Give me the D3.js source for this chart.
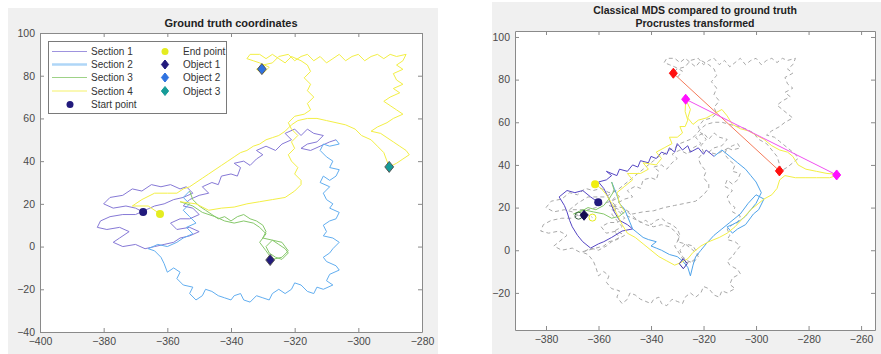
<!DOCTYPE html>
<html>
<head>
<meta charset="utf-8">
<script src="https://cdn.jsdelivr.net/npm/d3@7"></script>
<style>
  body { margin: 0; background: #fff; }
  svg { display: block; font-family: Arial, "Liberation Sans", Helvetica, sans-serif; }
</style>
</head>
<body>
<svg id="chart" width="881" height="354"></svg>
<script>
// ground truth path, split in 4 sections
const section1 = [[-367.6,16.2],[-370,18],[-373,19],[-377,18],[-380,20],[-378,23],[-374,24],[-371,27],[-368,26],[-365,29],[-362,28],[-359,29],[-356,27],[-354,28],[-352,25],[-355,23],[-358,22],[-361,20],[-364,19],[-367,17],[-370,15],[-374,15],[-378,14],[-381,12],[-382,9],[-379,8],[-375,9],[-372,7],[-375,4],[-377,2],[-374,0],[-370,1],[-367,-1],[-364,0],[-361,1],[-358,2],[-356,4],[-353,5],[-350,7],[-353,9],[-357,8],[-359,11],[-356,13],[-353,13],[-350,15],[-352,18],[-355,19],[-353,22],[-350,24],[-347,25],[-349,28],[-346,30],[-344,29],[-343,33],[-340,34],[-338,33],[-337,37],[-339,39],[-336,40],[-334,38],[-332,41],[-330,43],[-332,45],[-329,47],[-326,45],[-324,48],[-321,50],[-323,53],[-320,55],[-318,52],[-316,55],[-314,53],[-311,52],[-313,49],[-316,48],[-318,46],[-315,45],[-312,47],[-309,49],[-307,50]];
const section2 = [[-307,50],[-306,48],[-309,47],[-311,48],[-312,45],[-310,42],[-308,40],[-309,37],[-306,36],[-307,33],[-309,31],[-311,33],[-312,30],[-309,28],[-311,25],[-310,22],[-308,20],[-309,18],[-306,16],[-307,13],[-309,12],[-311,10],[-310,7],[-311,5],[-308,4],[-306,2],[-308,-1],[-309,-3],[-311,-5],[-310,-7],[-307,-9],[-306,-11],[-309,-13],[-310,-16],[-308,-18],[-311,-20],[-313,-19],[-314,-22],[-316,-21],[-318,-18],[-320,-17],[-321,-20],[-323,-22],[-325,-20],[-327,-22],[-328,-25],[-330,-24],[-332,-23],[-334,-26],[-336,-25],[-337,-22],[-339,-23],[-340,-25],[-342,-24],[-344,-23],[-346,-21],[-348,-20],[-349,-23],[-351,-25],[-353,-22],[-352,-19],[-355,-18],[-357,-15],[-356,-12],[-358,-10],[-360,-12],[-361,-8],[-362,-5],[-364,-2],[-366,-1],[-363,1],[-360,0],[-357,2],[-355,4],[-352,6],[-354,9],[-351,11],[-353,14],[-355,17],[-353,20],[-355,23],[-353,26]];
const section3 = [[-353,26],[-352,22],[-350,19],[-348,17],[-346,15],[-344,13],[-342,14],[-340,12],[-338,14],[-336,15],[-334,13],[-332,12],[-330,10],[-329,7],[-330,4],[-327,3],[-325,1],[-323,-1],[-322,-3],[-324,-6],[-326,-5],[-328,-3],[-329,0],[-327,3],[-324,2],[-322,-2],[-324,-5],[-327,-6],[-329,-2],[-331,2],[-329,6],[-331,9],[-333,11],[-336,12],[-339,11],[-342,12],[-345,14],[-349,16],[-352,19],[-356,21]];
const section4 = [[-356,21],[-351,20],[-347,17],[-343,18],[-339,18.5],[-335,20],[-331,21],[-327,22],[-323,23],[-320,26],[-318,29],[-318,31],[-320,34],[-319,37],[-321,40],[-322,43],[-320,46],[-321,49],[-319,52],[-321,55],[-322,58],[-320,61],[-317,62],[-315,64],[-316,67],[-314,70],[-316,73],[-315,76],[-317,79],[-315,82],[-316,85],[-318,87],[-321,89],[-323,86],[-325,88],[-327,90],[-329,88],[-331,90],[-334,90],[-335,88],[-333,87],[-331,86],[-328,84],[-330,81],[-332,83],[-330,85],[-327,86],[-325,89],[-322,90],[-320,87],[-318,89],[-316,90],[-314,87],[-312,89],[-310,86],[-308,88],[-306,90],[-304,87],[-302,89],[-300,90],[-298,87],[-296,89],[-294,90],[-292,88],[-290,90],[-288,89],[-285,90],[-286,87],[-288,85],[-286,83],[-289,81],[-288,78],[-286,76],[-289,74],[-287,72],[-290,70],[-292,68],[-290,66],[-288,64],[-286,62],[-289,60],[-291,58],[-294,56],[-296,54],[-293,53],[-291,51],[-289,49],[-287,47],[-285,45],[-284,43],[-286,41],[-288,39],[-290.3,37.3],[-291,40],[-292,44],[-294,47],[-296,50],[-299,52],[-301,55],[-304,57],[-307,58],[-310,59],[-313,60],[-316,60],[-319,59],[-321,57],[-323,54],[-325,52],[-327,51],[-329,50],[-331,48],[-333,47],[-335,45],[-337,44],[-339,42],[-341,40],[-343,38],[-345,36],[-347,34],[-349,32],[-351,30],[-353,28],[-355,27],[-357,25],[-360,25],[-364,25],[-368,22],[-371,19],[-366,19],[-362.3,15.3]];

// classical MDS path (procrustes transformed)
const mds1 = [[-360.1,22.5],[-363,25],[-366,28],[-369,27],[-372,28],[-375,25],[-373,21],[-372,18],[-371,14],[-370,11],[-368,7],[-366,4],[-363,1],[-360,3],[-358,4],[-355,6],[-351,9],[-347,10],[-349,12],[-352,14],[-354,18],[-356,24],[-358,29],[-360,32],[-357,33],[-355,35],[-357,37],[-353,35],[-352,38],[-349,37],[-347,40],[-345,39],[-344,42],[-341,41],[-340,44],[-338,43],[-336,46],[-334,45],[-333,48],[-331,46],[-330,50],[-328,47],[-326,49],[-325,46],[-322,48],[-320,45],[-319,47],[-316,44]];
const mds2 = [[-316,44],[-313,47],[-310,44],[-307,41],[-304,38],[-302,35],[-300,32],[-298,27],[-300,22],[-302,19],[-304,16],[-306,14],[-309,12],[-311,11],[-309,8],[-307,10],[-304,12],[-301,17],[-299,19],[-297,24],[-300,26],[-303,22],[-306,17],[-310,13],[-313,10],[-316,7],[-319,3],[-321,0],[-323,-3],[-324,-7],[-325,-12],[-326,-8],[-328,-5],[-330,-3],[-333,-2],[-336,0],[-338,1],[-340,2],[-338,4],[-341,5],[-343,6],[-345,8],[-347,10],[-348,13],[-349,16],[-350,19],[-352,22],[-353,26],[-354,29],[-355,32]];
const mds3 = [[-355,32],[-354,28],[-356,24],[-358,21],[-361,19],[-364,20],[-367,18],[-369.5,17],[-366,19],[-362,18],[-358,17],[-355,15],[-352,16],[-350,18]];
const mds4 = [[-350,18],[-352,22],[-353,27],[-350,30],[-347,33],[-349,36],[-344,36],[-341,38],[-343,41],[-338,40],[-336,43],[-338,46],[-335,48],[-332,50],[-333,53],[-330,53],[-328,55],[-329,58],[-327,58],[-326,61],[-327,65],[-326.8,70.8],[-325,66],[-326,62],[-324,59],[-322,61],[-319,62],[-316,64],[-313,66],[-311,63],[-309,59],[-306,57],[-303,56],[-300,54],[-297,52],[-294,49],[-291,47],[-288,46],[-286,44],[-284,40],[-281,38],[-277,37],[-273,36],[-268,35.5],[-272,34],[-277,34],[-281,34],[-285,34],[-289,35],[-291,33],[-292,29],[-294,26],[-297,24],[-299,22],[-302,19],[-305,15],[-308,11],[-311,8],[-314,6],[-318,4],[-321,2],[-324,-1],[-326,-4],[-329,-6],[-331,-7],[-334,-5],[-337,-3],[-340,0],[-343,3],[-346,6],[-349,8],[-351,12],[-353,17],[-355,22],[-357,26],[-359,29],[-361.3,30.9]];

const startPoint = [-367.6, 16.2];
const endPoint = [-362.3, 15.3];
const objects = [[-327.7, -6.3], [-330.3, 83.1], [-290.3, 37.3]];
const mdsStart = [-360.1, 22.5];
const mdsEnd = [-361.3, 30.9];
const mdsObject1 = [-365.5, 16.4];
const redPair = [[-331.5, 83.0], [-291.1, 37.2]];
const magentaPair = [[-326.8, 70.8], [-269.3, 35.3]];

const sectionNames = ["Section 1", "Section 2", "Section 3", "Section 4"];
const pointNames = ["End point", "Object 1", "Object 2", "Object 3"];
const xTicksL = [-400, -380, -360, -340, -320, -300, -280];
const yTicksL = [-40, -20, 0, 20, 40, 60, 80, 100];
const xTicksR = [-380, -360, -340, -320, -300, -280, -260];
const yTicksR = [-20, 0, 20, 40, 60, 80, 100];

const secColors = ["#8679d6", "#62aef0", "#86c86a", "#f3ef45"];
const mdsColors = ["#5546c4", "#4ea3ea", "#86c86a", "#f3ef45"];
const objColors = ["#221a7c", "#2f72e0", "#169c98"];

const svg = d3.select("#chart");

// figure backgrounds
svg.append("rect").attr("x", 8).attr("y", 8).attr("width", 430).attr("height", 346).attr("fill", "#f0f0f0");
svg.append("rect").attr("x", 492).attr("y", 2).attr("width", 389).attr("height", 352).attr("fill", "#f0f0f0");

function panel(box, xd, yd, xt, yt) {
  const x = d3.scaleLinear().domain(xd).range([box.l, box.r]);
  const y = d3.scaleLinear().domain(yd).range([box.b, box.t]);
  const g = svg.append("g");
  g.append("rect").attr("x", box.l).attr("y", box.t)
    .attr("width", box.r - box.l).attr("height", box.b - box.t).attr("fill", "#fff");
  return { x, y, g, box, xt, yt };
}

function frame(p) {
  const { x, y, box, xt, yt } = p;
  const style = a => a.call(s => s.select(".domain").attr("stroke", "#8a8a8a"))
    .call(s => s.selectAll(".tick line").attr("stroke", "#8a8a8a"))
    .call(s => s.selectAll("text").attr("fill", "#4a4a4a").attr("font-size", 10.5));
  svg.append("g").attr("transform", `translate(0,${box.b})`)
    .call(d3.axisBottom(x).tickValues(xt).tickSizeInner(-4).tickSizeOuter(0).tickPadding(6))
    .call(style);
  svg.append("g").attr("transform", `translate(0,${box.t})`)
    .call(d3.axisTop(x).tickValues(xt).tickSizeInner(-4).tickSizeOuter(0).tickFormat(""))
    .call(style);
  svg.append("g").attr("transform", `translate(${box.l},0)`)
    .call(d3.axisLeft(y).tickValues(yt).tickSizeInner(-4).tickSizeOuter(0).tickPadding(5))
    .call(style);
  svg.append("g").attr("transform", `translate(${box.r},0)`)
    .call(d3.axisRight(y).tickValues(yt).tickSizeInner(-4).tickSizeOuter(0).tickFormat(""))
    .call(style);
  svg.selectAll(".tick text").attr("font-family", "Arial, 'Liberation Sans', sans-serif");
}

function path(p, data, color, w, dash) {
  const line = d3.line().x(d => p.x(d[0])).y(d => p.y(d[1]));
  p.g.append("path").datum(data).attr("fill", "none").attr("stroke", color)
    .attr("stroke-width", w).attr("stroke-linejoin", "round")
    .attr("stroke-dasharray", dash || null).attr("d", line);
}

function diamond(sel, cx, cy, r, fill, stroke) {
  sel.append("path").attr("d", `M${cx},${cy - r}L${cx + r * 0.8},${cy}L${cx},${cy + r}L${cx - r * 0.8},${cy}Z`)
    .attr("fill", fill).attr("stroke", stroke || fill).attr("stroke-width", 1);
}

// ---------- left: ground truth ----------
const L = panel({ l: 40, r: 422, t: 33, b: 332 }, [-400, -280], [-40, 100], xTicksL, yTicksL);
[section1, section2, section3, section4].forEach((s, i) => path(L, s, secColors[i], 1));
L.g.append("circle").attr("cx", L.x(startPoint[0])).attr("cy", L.y(startPoint[1])).attr("r", 4).attr("fill", objColors[0]);
L.g.append("circle").attr("cx", L.x(endPoint[0])).attr("cy", L.y(endPoint[1])).attr("r", 4).attr("fill", "#e4ec20");
objects.forEach((o, i) => diamond(L.g, L.x(o[0]), L.y(o[1]), 5.5, objColors[i], "#555"));
frame(L);

svg.append("text").attr("x", 231).attr("y", 27).attr("text-anchor", "middle")
  .attr("font-size", 11).attr("font-weight", "bold").attr("fill", "#222").text("Ground truth coordinates");

// legend
const lg = svg.append("g");
lg.append("rect").attr("x", 48.5).attr("y", 41.5).attr("width", 178).attr("height", 72)
  .attr("fill", "#fff").attr("stroke", "#7a7a7a");
const rowY = [51.5, 64.5, 77.5, 91, 104.5];
sectionNames.forEach((n, i) => {
  lg.append("line").attr("x1", 52).attr("x2", 87).attr("y1", rowY[i]).attr("y2", rowY[i])
    .attr("stroke", secColors[i]).attr("stroke-width", i === 1 ? 2.5 : 1).attr("opacity", i === 1 ? 0.5 : 0.8);
  lg.append("text").attr("x", 91).attr("y", rowY[i] + 3.5).attr("font-size", 10).attr("fill", "#333").text(n);
});
lg.append("circle").attr("cx", 70).attr("cy", rowY[4]).attr("r", 3.5).attr("fill", objColors[0]);
lg.append("text").attr("x", 91).attr("y", rowY[4] + 3.5).attr("font-size", 10).attr("fill", "#333").text("Start point");
lg.append("circle").attr("cx", 165).attr("cy", rowY[0]).attr("r", 3.5).attr("fill", "#e4ec20");
objColors.forEach((c, i) => diamond(lg, 165, rowY[i + 1], 4.5, c));
pointNames.forEach((n, i) => {
  lg.append("text").attr("x", 183).attr("y", rowY[i] + 3.5).attr("font-size", 10).attr("fill", "#333").text(n);
});

// ---------- right: MDS ----------
const R = panel({ l: 515, r: 875, t: 31, b: 330 }, [-391.8, -254.7], [-37.4, 102.8], xTicksR, yTicksR);
path(R, [].concat(section1, section2, section3, section4), "#a8a8a8", 1, "4,3");
[mds1, mds2, mds3, mds4].forEach((s, i) => path(R, s, mdsColors[i], 1));
path(R, redPair, "#f47a5a", 1);
path(R, magentaPair, "#f050f0", 1);
redPair.forEach(d => diamond(R.g, R.x(d[0]), R.y(d[1]), 5, "#ff1010"));
magentaPair.forEach(d => diamond(R.g, R.x(d[0]), R.y(d[1]), 5, "#ff10ff"));
R.g.append("circle").attr("cx", R.x(startPoint[0])).attr("cy", R.y(startPoint[1])).attr("r", 3.5)
  .attr("fill", "none").attr("stroke", "#3f6a4a").attr("stroke-width", 1);
R.g.append("circle").attr("cx", R.x(endPoint[0])).attr("cy", R.y(endPoint[1])).attr("r", 3.5)
  .attr("fill", "none").attr("stroke", "#e4ec20").attr("stroke-width", 1);
diamond(R.g, R.x(objects[0][0]), R.y(objects[0][1]), 5, "none", "#3d2ca8");
diamond(R.g, R.x(mdsObject1[0]), R.y(mdsObject1[1]), 5, "#140c50");
R.g.append("circle").attr("cx", R.x(mdsStart[0])).attr("cy", R.y(mdsStart[1])).attr("r", 4).attr("fill", objColors[0]);
R.g.append("circle").attr("cx", R.x(mdsEnd[0])).attr("cy", R.y(mdsEnd[1])).attr("r", 4).attr("fill", "#f0ee10");
frame(R);

svg.append("text").attr("x", 695).attr("y", 14).attr("text-anchor", "middle")
  .attr("font-size", 10.5).attr("font-weight", "bold").attr("fill", "#222").text("Classical MDS compared to ground truth");
svg.append("text").attr("x", 695).attr("y", 27).attr("text-anchor", "middle")
  .attr("font-size", 10.5).attr("font-weight", "bold").attr("fill", "#222").text("Procrustes transformed");
</script>
</body>
</html>
